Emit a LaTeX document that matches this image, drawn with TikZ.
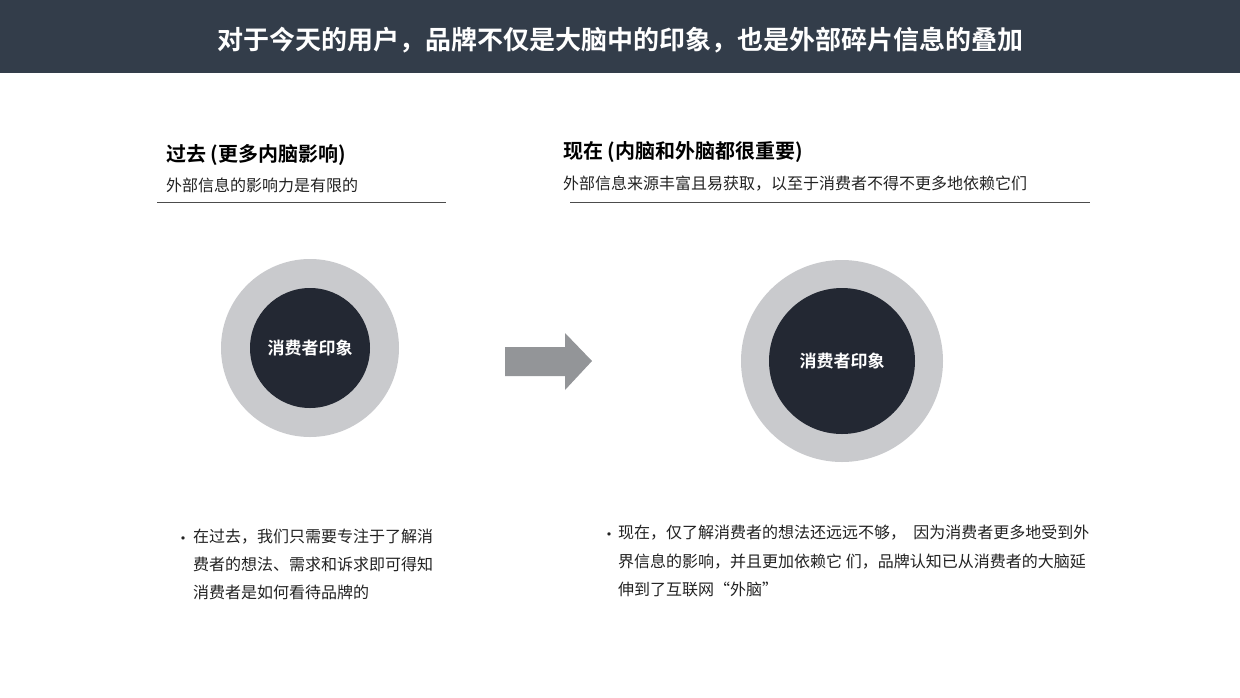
\documentclass[tikz,border=0pt]{standalone}
\usepackage{fontspec}
\setmainfont{Noto Sans CJK SC}
\newfontfamily\cjkb{Noto Sans CJK SC Bold}
\definecolor{hdr}{HTML}{333D4A}
\definecolor{ring}{HTML}{C9CACD}
\definecolor{core}{HTML}{232833}
\definecolor{arr}{HTML}{939598}
\definecolor{txt}{HTML}{222222}
\begin{document}
\begin{tikzpicture}[x=1pt,y=-1pt,
  body/.style={anchor=west,inner sep=0pt,text=txt,font=\fontsize{16}{20}\selectfont},
  head/.style={anchor=west,inner sep=0pt,text=black,font=\cjkb\fontsize{20}{24}\selectfont},
  corelabel/.style={text=white,font=\cjkb\fontsize{17}{20}\selectfont}]
\useasboundingbox (0,0) rectangle (1240,697);
\fill[white] (0,0) rectangle (1240,697);
\fill[hdr] (0,0) rectangle (1240,73);
\node[text=white,font=\cjkb\fontsize{26}{30}\selectfont] (title) at (620,40) {对于今天的用户，品牌不仅是大脑中的印象，也是外部碎片信息的叠加};
% left
\node[head] (lh) at (166,155) {过去 (更多内脑影响)};
\node[body] (ls) at (166,185) {外部信息的影响力是有限的};
\coordinate (l1) at (157,202); \coordinate (l2) at (446,202);
\draw[black!70,line width=0.8pt] (l1) -- (l2);
\fill[ring] (310,348) circle (89);
\node[circle,fill=core,minimum size=120,inner sep=0pt,corelabel] (lc) at (310,348) {消费者印象};
% right
\node[head] (rh) at (563,152) {现在 (内脑和外脑都很重要)};
\node[body] (rs) at (563,184) {外部信息来源丰富且易获取，以至于消费者不得不更多地依赖它们};
\coordinate (r1) at (570,202); \coordinate (r2) at (1090,202);
\draw[black!70,line width=0.8pt] (r1) -- (r2);
\fill[ring] (842,361) circle (101);
\node[circle,fill=core,minimum size=146,inner sep=0pt,corelabel] (rc) at (842,361) {消费者印象};
% arrow
\fill[arr] (505,347) -- (565,347) -- (565,333) -- (592,361) -- (565,390) -- (565,376) -- (505,376) -- cycle;
% bullets
\node[body] (lb) at (175,541) {•};
\node[body,anchor=north west,align=left,font=\fontsize{16}{28}\selectfont] (lt) at (193,529) {在过去，我们只需要专注于了解消\\费者的想法、需求和诉求即可得知\\消费者是如何看待品牌的};
\node[body] (rb) at (601,537) {•};
\node[body,anchor=north west,align=left,font=\fontsize{16}{28.5}\selectfont] (rt) at (618,525) {现在，仅了解消费者的想法还远远不够，\ \ 因为消费者更多地受到外\\界信息的影响，并且更加依赖它 们，品牌认知已从消费者的大脑延\\伸到了互联网“外脑”};
\end{tikzpicture}
\end{document}
